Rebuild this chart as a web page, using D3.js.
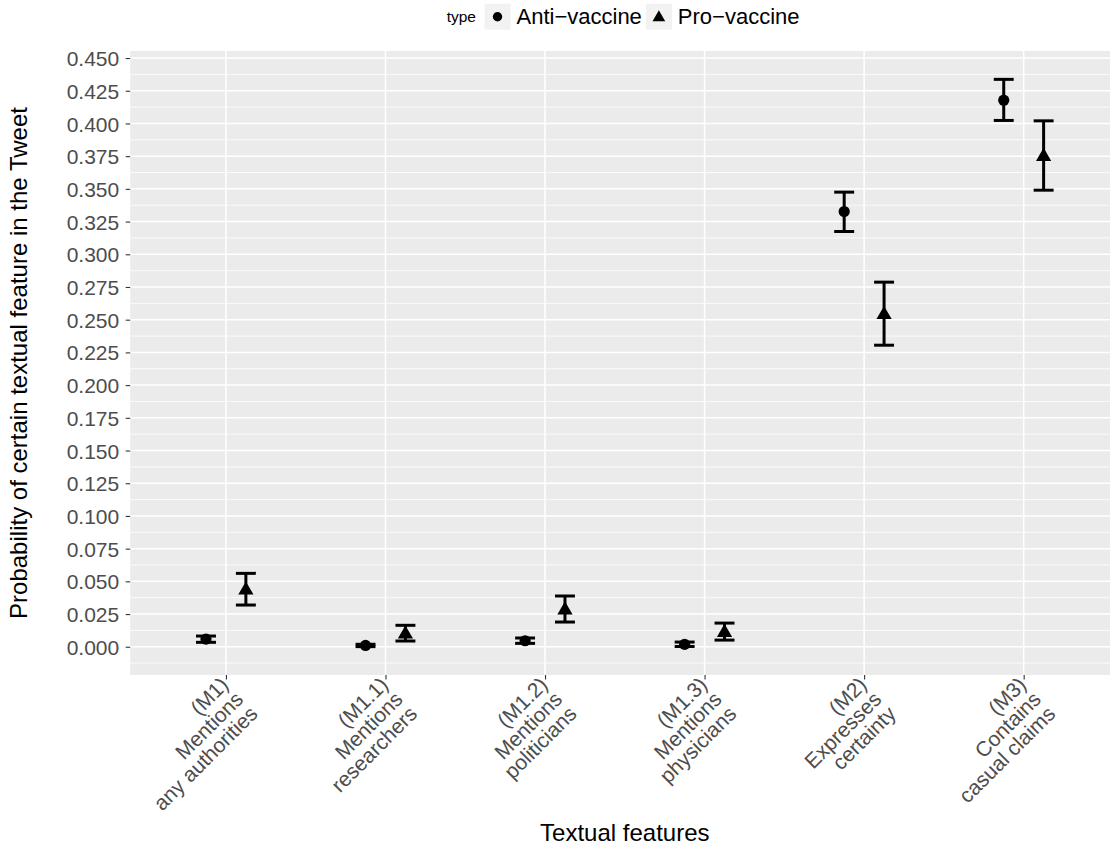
<!DOCTYPE html>
<html>
<head>
<meta charset="utf-8">
<script src="https://cdn.jsdelivr.net/npm/d3@7"></script>
<style>
  html, body { margin: 0; padding: 0; background: #ffffff; }
  svg { display: block; font-family: "Liberation Sans", Arial, Helvetica, sans-serif; }
</style>
</head>
<body>
<svg id="chart" width="1110" height="852"></svg>
<script>
// Textual features (x categories), one label line per entry
const categories = ["M1", "M1.1", "M1.2", "M1.3", "M2", "M3"];
const categoryLabels = [
  ["(M1)", "Mentions", "any authorities"],
  ["(M1.1)", "Mentions", "researchers"],
  ["(M1.2)", "Mentions", "politicians"],
  ["(M1.3)", "Mentions", "physicians"],
  ["(M2)", "Expresses", "certainty"],
  ["(M3)", "Contains", "casual claims"]
];

// Estimated probabilities with confidence bounds, by tweet type
const antiMean = [0.0059, 0.0010, 0.0046, 0.0019, 0.3327, 0.4178];
const antiLow  = [0.0034, 0.0001, 0.0026, 0.0002, 0.3174, 0.4023];
const antiHigh = [0.0082, 0.0019, 0.0067, 0.0036, 0.3475, 0.4337];

const proMean = [0.0440, 0.0104, 0.0288, 0.0116, 0.2546, 0.3755];
const proLow  = [0.0319, 0.0044, 0.0189, 0.0051, 0.2305, 0.3490];
const proHigh = [0.0561, 0.0164, 0.0388, 0.0181, 0.2787, 0.4020];

const types = ["Anti\u2212vaccine", "Pro\u2212vaccine"];
const yTicks = d3.range(0, 0.4501, 0.025);

const xTitle = "Textual features";
const yTitle = "Probability of certain textual feature in the Tweet";
const legendTitle = "type";

// ---- layout ----
const svg = d3.select("#chart");
const panel = { left: 130.2, right: 1119.4, top: 51, bottom: 675 };

const rows = [];
categories.forEach((c, i) => {
  rows.push({ cat: c, type: 0, mean: antiMean[i], lo: antiLow[i], hi: antiHigh[i] });
  rows.push({ cat: c, type: 1, mean: proMean[i], lo: proLow[i], hi: proHigh[i] });
});

const x = d3.scalePoint().domain(categories).range([panel.left, panel.right]).padding(0.6);
const step = x.step();
const dodge = d3.scaleOrdinal().domain([0, 1]).range([-0.125 * step, 0.125 * step]);

const yMin = d3.min(rows, d => d.lo), yMax = d3.max(rows, d => d.hi);
const pad = (yMax - yMin) * 0.05;
const y = d3.scaleLinear().domain([yMin - pad, yMax + pad]).range([panel.bottom, panel.top]);

// panel background
svg.append("rect")
  .attr("x", panel.left).attr("y", panel.top)
  .attr("width", panel.right - panel.left).attr("height", panel.bottom - panel.top)
  .attr("fill", "#EBEBEB");

const grid = svg.append("g");
// minor grid lines halfway between major ticks
const minor = d3.range(-0.0125, yMax + pad, 0.025).filter(v => v > yMin - pad && v < yMax + pad);
grid.selectAll("line.minor").data(minor).join("line")
  .attr("x1", panel.left).attr("x2", panel.right)
  .attr("y1", d => y(d)).attr("y2", d => y(d))
  .attr("stroke", "#ffffff").attr("stroke-width", 0.8);
grid.selectAll("line.majorY").data(yTicks).join("line")
  .attr("x1", panel.left).attr("x2", panel.right)
  .attr("y1", d => y(d)).attr("y2", d => y(d))
  .attr("stroke", "#ffffff").attr("stroke-width", 1.5);
grid.selectAll("line.majorX").data(categories).join("line")
  .attr("x1", d => x(d)).attr("x2", d => x(d))
  .attr("y1", panel.top).attr("y2", panel.bottom)
  .attr("stroke", "#ffffff").attr("stroke-width", 1.5);

// ---- y axis ----
const yAxis = d3.axisLeft(y).tickValues(yTicks).tickFormat(d3.format(".3f")).tickSize(4.5).tickPadding(6.5);
const yg = svg.append("g").attr("transform", `translate(${panel.left},0)`).call(yAxis);
yg.select(".domain").remove();
yg.selectAll(".tick line").attr("stroke", "#333333").attr("stroke-width", 1.1);
yg.selectAll(".tick text").attr("fill", "#4D4D4D").attr("font-size", 21)
  .attr("font-family", "Liberation Sans, Arial, sans-serif").attr("dy", "0.36em");

// ---- x axis ----
const xAxis = d3.axisBottom(x).tickSize(4.5).tickFormat("");
const xg = svg.append("g").attr("transform", `translate(0,${panel.bottom})`).call(xAxis);
xg.select(".domain").remove();
xg.selectAll(".tick line").attr("stroke", "#333333").attr("stroke-width", 1.1);

// rotated, right-aligned multi-line category labels
const xl = svg.append("g").selectAll("g").data(categories).join("g")
  .attr("transform", d => `translate(${x(d) + 3.9},${panel.bottom + 11}) rotate(-45)`);
const xt = xl.append("text")
  .attr("text-anchor", "end").attr("fill", "#4D4D4D").attr("font-size", 21);
xt.selectAll("tspan").data((d, i) => categoryLabels[i]).join("tspan")
  .attr("x", 0).attr("dy", (d, i) => i === 0 ? "0em" : "0.98em").text(d => d);

// ---- titles ----
svg.append("text").attr("x", (panel.left + panel.right) / 2).attr("y", 841)
  .attr("text-anchor", "middle").attr("font-size", 24).attr("fill", "#000").text(xTitle);
svg.append("text").attr("transform", `translate(27,${(panel.top + panel.bottom) / 2}) rotate(-90)`)
  .attr("text-anchor", "middle").attr("font-size", 24).attr("fill", "#000").text(yTitle);

// ---- marks ----
const marks = svg.append("g");
const capHalf = 0.0625 * step;
rows.forEach(r => {
  const cx = x(r.cat) + dodge(r.type);
  const g = marks.append("g").attr("stroke", "#000").attr("stroke-width", 3);
  g.append("line").attr("x1", cx).attr("x2", cx).attr("y1", y(r.lo)).attr("y2", y(r.hi));
  g.append("line").attr("x1", cx - capHalf).attr("x2", cx + capHalf).attr("y1", y(r.lo)).attr("y2", y(r.lo));
  g.append("line").attr("x1", cx - capHalf).attr("x2", cx + capHalf).attr("y1", y(r.hi)).attr("y2", y(r.hi));
});
const circleSym = d3.symbol().type(d3.symbolCircle).size(Math.PI * 5.6 * 5.6);
const triSym = d3.symbol().type(d3.symbolTriangle).size(100);
marks.selectAll("path.pt").data(rows).join("path")
  .attr("transform", d => `translate(${x(d.cat) + dodge(d.type)},${y(d.mean) + (d.type === 1 ? 1 : 0)})`)
  .attr("d", d => d.type === 0 ? circleSym() : triSym())
  .attr("fill", "#000");

// ---- legend ----
const lg = svg.append("g");
const legendY = 16.7;
let lx = 446.7;
const lt = lg.append("text").attr("x", lx).attr("y", legendY).attr("dy", "0.35em")
  .attr("font-size", 15.5).attr("fill", "#000").text(legendTitle);
lx += lt.node().getComputedTextLength() + 8.5;
types.forEach((t, i) => {
  lg.append("rect").attr("x", lx).attr("y", legendY - 13).attr("width", 26).attr("height", 26)
    .attr("fill", "#F2F2F2");
  lg.append("path").attr("transform", `translate(${lx + 13},${legendY + (i === 1 ? 1 : 0)})`)
    .attr("d", i === 0 ? d3.symbol().type(d3.symbolCircle).size(Math.PI * 4.7 * 4.7)() : d3.symbol().type(d3.symbolTriangle).size(70)())
    .attr("fill", "#000");
  lx += 26 + 6;
  const tt = lg.append("text").attr("x", lx).attr("y", legendY).attr("dy", "0.35em")
    .attr("font-size", 22).attr("fill", "#000").text(t);
  lx += tt.node().getComputedTextLength() + 4;
});
</script>
</body>
</html>
